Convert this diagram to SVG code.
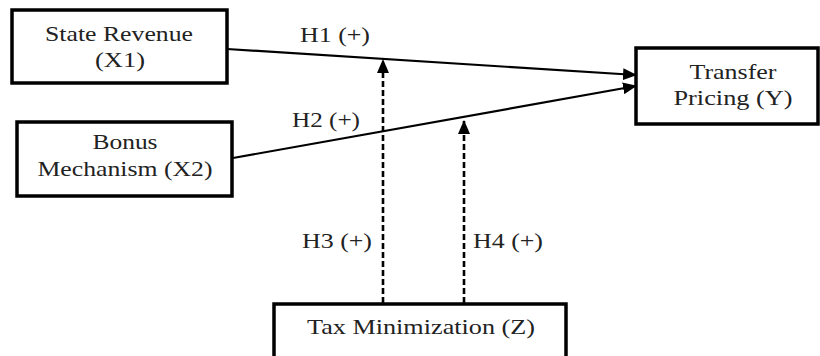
<svg xmlns="http://www.w3.org/2000/svg" width="820" height="356" viewBox="0 0 820 356">
<defs>
<style>
.box{fill:#fff;stroke:#000;stroke-width:3.5}
.t{font-family:"Liberation Serif","Times New Roman",serif;font-size:21px;fill:#222;text-anchor:middle}
.l{font-family:"Liberation Serif","Times New Roman",serif;font-size:21px;fill:#222}
.ln{stroke:#000;stroke-width:2.2;fill:none}
.dl{stroke:#000;stroke-width:2.6;fill:none;stroke-dasharray:6 3}
</style>
<marker id="ah" markerUnits="userSpaceOnUse" markerWidth="14" markerHeight="12" refX="13" refY="6" orient="auto">
<path d="M0,0 L14,6 L0,12 Z" fill="#000"/>
</marker>
</defs>
<rect width="820" height="356" fill="#fff"/>
<g id="connectors">
<line class="ln" x1="227" y1="49" x2="636" y2="75" marker-end="url(#ah)"/>
<line class="ln" x1="233" y1="158" x2="636" y2="86" marker-end="url(#ah)"/>
<line class="dl" x1="383" y1="303" x2="383" y2="60" marker-end="url(#ah)"/>
<line class="dl" x1="464" y1="303" x2="464" y2="121" marker-end="url(#ah)"/>
<text class="l" x="300" y="42" textLength="70" lengthAdjust="spacingAndGlyphs">H1 (+)</text>
<text class="l" x="292" y="127" textLength="68" lengthAdjust="spacingAndGlyphs">H2 (+)</text>
<text class="l" x="302" y="248" textLength="70" lengthAdjust="spacingAndGlyphs">H3 (+)</text>
<text class="l" x="473" y="248" textLength="70" lengthAdjust="spacingAndGlyphs">H4 (+)</text>
</g>
<g id="x1">
<rect class="box" x="12" y="10" width="215" height="73"/>
<text class="t" x="119" y="41" textLength="148" lengthAdjust="spacingAndGlyphs">State Revenue</text>
<text class="t" x="120" y="67" textLength="50" lengthAdjust="spacingAndGlyphs">(X1)</text>
</g>
<g id="x2">
<rect class="box" x="17" y="122" width="215" height="74"/>
<text class="t" x="125" y="149" textLength="65" lengthAdjust="spacingAndGlyphs">Bonus</text>
<text class="t" x="125" y="176" textLength="175" lengthAdjust="spacingAndGlyphs">Mechanism (X2)</text>
</g>
<g id="y">
<rect class="box" x="636" y="48" width="182" height="76"/>
<text class="t" x="733" y="79" textLength="87" lengthAdjust="spacingAndGlyphs">Transfer</text>
<text class="t" x="733" y="105" textLength="119" lengthAdjust="spacingAndGlyphs">Pricing (Y)</text>
</g>
<g id="z">
<rect class="box" x="274" y="304" width="292" height="60"/>
<text class="t" x="421" y="334" textLength="228" lengthAdjust="spacingAndGlyphs">Tax Minimization (Z)</text>
</g>
</svg>
